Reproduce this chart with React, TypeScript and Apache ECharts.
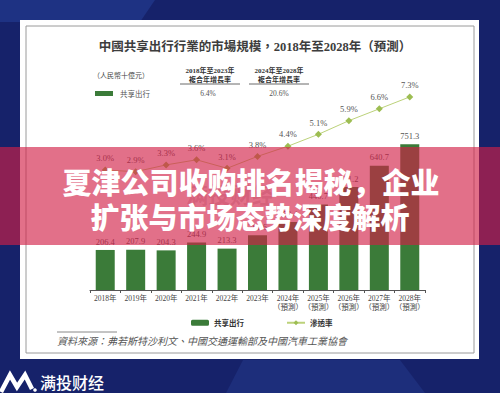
import React, { useEffect, useRef } from "react";
import * as echarts from "echarts";

const categories = [
  "2018年", "2019年", "2020年", "2021年", "2022年", "2023年",
  "2024年\n（預測）", "2025年\n（預測）", "2026年\n（預測）", "2027年\n（預測）", "2028年\n（預測）",
];
const marketSize = [206.4, 207.9, 204.3, 244.9, 213.3, 281.6, 350.4, 440.7, 531.2, 640.7, 751.3];
const penetration = [3.0, 2.9, 3.3, 3.6, 3.1, 3.8, 4.4, 5.1, 5.9, 6.6, 7.3];
const seriesNames = ["共享出行", "滲透率"];
const cagrHeaders = ["2018年至2023年", "2024年至2028年"];
const cagrValues = ["6.4%", "20.6%"];

const SERIF = "'Liberation Serif', 'Noto Sans CJK TC', serif";
const CJK = "'Noto Sans CJK TC', 'Noto Sans CJK SC', sans-serif";

export default function App() {
  const ref = useRef<HTMLDivElement>(null);
  useEffect(() => {
    document.body.style.margin = "0";
    if (!ref.current) return;
    const chart = echarts.init(ref.current, undefined, { renderer: "svg" });
    const option: any = {
      animation: false,
      backgroundColor: "#16226a",
      grid: [
        { left: 90, width: 335, top: 96, height: 194 },
        { left: 90, width: 335, top: 85, height: 136 },
      ],
      xAxis: [
        {
          type: "category",
          gridIndex: 0,
          data: categories,
          axisLine: { lineStyle: { color: "#555", width: 1 } },
          axisTick: { show: true, length: 3, lineStyle: { color: "#555" } },
          axisLabel: {
            color: "#444",
            fontSize: 7.5,
            fontFamily: SERIF,
            lineHeight: 9,
            margin: 4,
            interval: 0,
          },
          z: 5,
        },
        {
          type: "category",
          gridIndex: 1,
          data: categories,
          show: false,
        },
      ],
      yAxis: [
        { type: "value", gridIndex: 0, min: 0, max: 1000, show: false },
        { type: "value", gridIndex: 1, min: 0, max: 8, show: false },
      ],
      legend: {
        left: 186,
        top: 314,
        itemWidth: 18,
        itemHeight: 6,
        itemGap: 42,
        data: seriesNames,
        textStyle: { fontSize: 7.5, color: "#333", fontFamily: CJK, fontWeight: "bold" },
        z: 5,
      },
      series: [
        {
          name: seriesNames[0],
          type: "bar",
          xAxisIndex: 0,
          yAxisIndex: 0,
          data: marketSize,
          barWidth: 19,
          itemStyle: { color: "#3b7b39" },
          label: {
            show: true,
            position: "top",
            distance: 4,
            fontSize: 8.5,
            color: "#555",
            fontFamily: SERIF,
            formatter: (p: any) => p.value.toFixed(1),
          },
          z: 3,
        },
        {
          name: seriesNames[1],
          type: "line",
          xAxisIndex: 1,
          yAxisIndex: 1,
          data: penetration,
          symbol: "diamond",
          symbolSize: 7,
          lineStyle: { color: "#bcd27a", width: 1 },
          itemStyle: { color: "#9dbd52" },
          label: {
            show: true,
            position: "top",
            distance: 4,
            fontSize: 8.5,
            color: "#555",
            fontFamily: SERIF,
            formatter: (p: any) => p.value.toFixed(1) + "%",
          },
          z: 4,
        },
      ],
      graphic: [
        // background accents
        { type: "polygon", z: -20, shape: { points: [[0, 0], [155, 0], [140, 22], [0, 22]] }, style: { fill: "#1e3283" } },
        { type: "polygon", z: -20, shape: { points: [[243, 360], [400, 360], [425, 393], [226, 393]] }, style: { fill: "#1d2e7b" } },
        // card
        { type: "rect", z: -15, shape: { x: 20, y: 20, width: 459, height: 339 }, style: { fill: "#ffffff" } },
        { type: "rect", z: -14, shape: { x: 26, y: 26, width: 448, height: 327 }, style: { fill: "none", stroke: "#9a9a9a", lineWidth: 1 } },
        // title
        {
          type: "text", z: 10, x: 255, y: 47,
          style: {
            text: "中國共享出行行業的市場規模，2018年至2028年（預測）",
            fill: "#3d3d3d", font: `bold 12.5px ${SERIF}`, align: "center", verticalAlign: "middle",
          },
        },
        // header
        { type: "text", z: 10, x: 93, y: 75, style: { text: "（人民幣十億元）", fill: "#444", font: `7px ${CJK}`, verticalAlign: "middle" } },
        { type: "text", z: 10, x: 210, y: 71, style: { text: cagrHeaders[0], fill: "#333", font: `bold 7px ${SERIF}`, align: "center", verticalAlign: "middle" } },
        { type: "text", z: 10, x: 210, y: 79, style: { text: "複合年增長率", fill: "#333", font: `bold 7px ${CJK}`, align: "center", verticalAlign: "middle" } },
        { type: "line", z: 10, shape: { x1: 180, y1: 84, x2: 240, y2: 84 }, style: { stroke: "#444", lineWidth: 0.8 } },
        { type: "text", z: 10, x: 279, y: 71, style: { text: cagrHeaders[1], fill: "#333", font: `bold 7px ${SERIF}`, align: "center", verticalAlign: "middle" } },
        { type: "text", z: 10, x: 279, y: 79, style: { text: "複合年增長率", fill: "#333", font: `bold 7px ${CJK}`, align: "center", verticalAlign: "middle" } },
        { type: "line", z: 10, shape: { x1: 249, y1: 84, x2: 309, y2: 84 }, style: { stroke: "#444", lineWidth: 0.8 } },
        { type: "rect", z: 10, shape: { x: 95, y: 91, width: 18, height: 5 }, style: { fill: "#3b7b39" } },
        { type: "text", z: 10, x: 120, y: 93.5, style: { text: seriesNames[0], fill: "#555", font: `7.5px ${CJK}`, verticalAlign: "middle" } },
        { type: "text", z: 10, x: 208, y: 93.5, style: { text: cagrValues[0], fill: "#555", font: `7.5px ${SERIF}`, align: "center", verticalAlign: "middle" } },
        { type: "text", z: 10, x: 279, y: 93.5, style: { text: cagrValues[1], fill: "#555", font: `7.5px ${SERIF}`, align: "center", verticalAlign: "middle" } },
        // source
        { type: "line", z: 10, shape: { x1: 57, y1: 332, x2: 117, y2: 332 }, style: { stroke: "#888", lineWidth: 1 } },
        {
          type: "text", z: 10, x: 57, y: 341,
          style: { text: "資料來源：弗若斯特沙利文、中國交通運輸部及中國汽車工業協會", fill: "#555", font: `italic 10px ${SERIF}`, verticalAlign: "middle" },
        },
        // banner overlay
        { type: "rect", z: 100, shape: { x: 0, y: 147, width: 500, height: 98 }, style: { fill: "rgba(209,32,71,0.64)" } },
        { type: "text", z: 101, x: 230, y: 193, style: { text: "满投财经", fill: "rgba(150,20,50,0.18)", font: `bold 22px ${CJK}`, align: "center", verticalAlign: "middle" } },
        {
          type: "text", z: 102, x: 251, y: 181,
          style: { text: "夏津公司收购排名揭秘，企业", fill: "#ffffff", font: `900 29px 'Noto Sans CJK SC', sans-serif`, align: "center", verticalAlign: "middle" },
        },
        {
          type: "text", z: 102, x: 250, y: 216,
          style: { text: "扩张与市场态势深度解析", fill: "#ffffff", font: `900 29px 'Noto Sans CJK SC', sans-serif`, align: "center", verticalAlign: "middle" },
        },
        // bottom logo
        {
          type: "polyline", z: 10,
          shape: { points: [[1, 392], [10, 375], [17, 387], [25, 375], [32, 389]] },
          style: { stroke: "#ffffff", lineWidth: 4.5, fill: "none", lineJoin: "miter" },
        },
        { type: "circle", z: 10, shape: { cx: 35, cy: 390, r: 1.8 }, style: { fill: "#ffffff" } },
        { type: "text", z: 10, x: 40, y: 382, style: { text: "满投财经", fill: "#ffffff", font: `500 16px 'Noto Sans CJK SC', sans-serif`, verticalAlign: "middle" } },
      ],
    };
    chart.setOption(option);
    return () => chart.dispose();
  }, []);
  return <div ref={ref} style={{ width: 500, height: 393 }} />;
}
